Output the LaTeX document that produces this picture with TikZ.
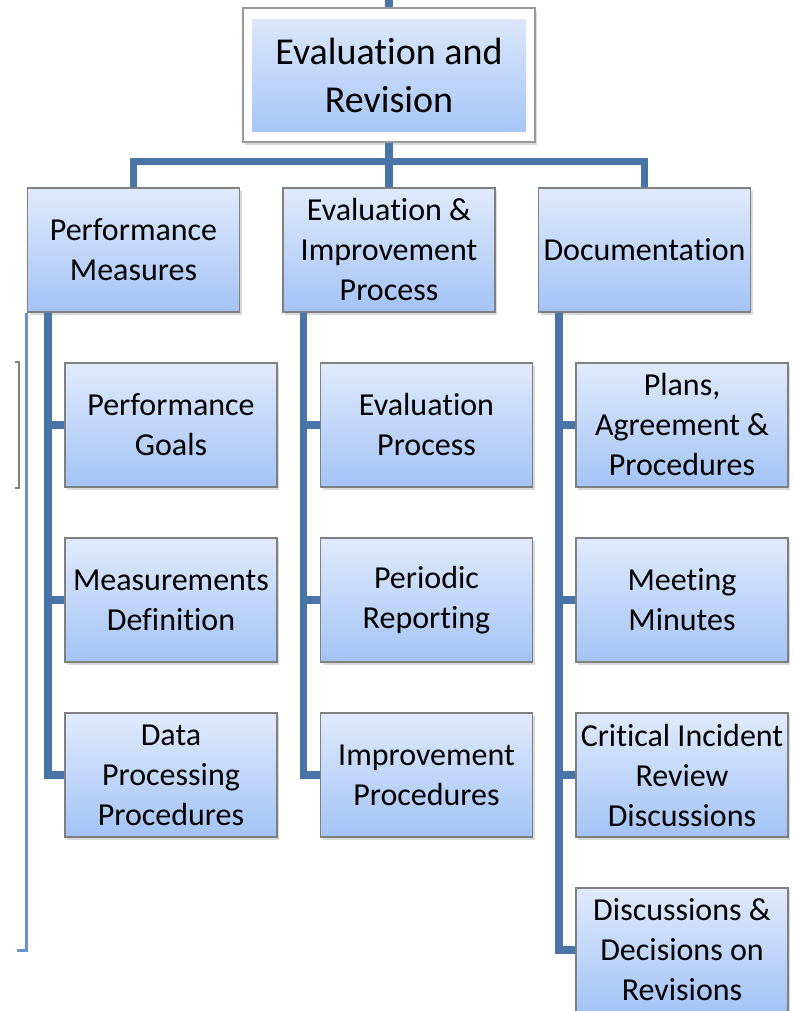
\documentclass[tikz,border=0pt]{standalone}
\usepackage{fontspec}
\setmainfont{Carlito}[Ligatures=NoCommon]
\usetikzlibrary{trees,shadows}
\definecolor{linkblue}{RGB}{72,116,168}
\definecolor{cropblue}{RGB}{104,148,210}
\definecolor{boxtop}{RGB}{224,234,252}
\definecolor{boxbottom}{RGB}{163,195,246}
\definecolor{boxline}{RGB}{128,128,128}
\begin{document}
\begin{tikzpicture}
		[x=1pt,y=1pt,
		font=\fontsize{32}{40}\selectfont,
		box/.style={rectangle,draw=boxline,line width=1.2pt,
			top color=boxtop,bottom color=boxbottom,
			minimum width=212pt,minimum height=124pt,inner sep=0pt,align=center,
			drop shadow={shadow xshift=2pt,shadow yshift=-3pt,opacity=0.3}},
		rootbox/.style={rectangle,draw=boxline!80,line width=1.2pt,fill=white,
			minimum width=292pt,minimum height=134pt,inner sep=0pt,align=center,
			font=\fontsize{38}{48}\selectfont,
			drop shadow={shadow xshift=2pt,shadow yshift=-3pt,opacity=0.3},
			path picture={\shade[top color=boxtop,bottom color=boxbottom]
				([xshift=9pt,yshift=-12pt]path picture bounding box.north west) rectangle
				([xshift=-9pt,yshift=10pt]path picture bounding box.south east);}},
		every child node/.style={box},
		edge from parent/.style={draw=linkblue,line width=7.5pt},
		level distance=175pt,
		level 1/.style={sibling distance=255.5pt,
			edge from parent path={(\tikzparentnode.south) -- ++(0,-19) -| (\tikzchildnode.north)}},
		level 2/.style={grow via three points={one child at (37.5,-175) and two children at (37.5,-175) and (37.5,-350)},
			edge from parent path={([xshift=21pt]\tikzparentnode.south west) |- (\tikzchildnode.west)}}]
		\useasboundingbox (0,0) rectangle (794,-1011);
		\coordinate (topend) at (389,0);
		\coordinate (cropend) at (17,-950);
		\draw[boxline,line width=2.5pt] (15,-362) -- (19,-362) -- (19,-488) -- (15,-488);
		\node[rootbox] (evalrev) at (389,-75) {Evaluation and\\Revision}
		child {node (perf) {Performance\\Measures}
			child {node (goals) {Performance\\Goals}}
			child {node (measdef) {Measurements\\Definition}}
			child {node (dataproc) {Data\\Processing\\Procedures}}}
		child {node (evalimp) {Evaluation \&\\Improvement\\Process}
			child {node (evalproc) {Evaluation\\Process}}
			child {node (periodic) {Periodic\\Reporting}}
			child {node (improc) {Improvement\\Procedures}}}
		child {node (docs) {Documentation}
			child {node (plans) {Plans,\\Agreement \&\\Procedures}}
			child {node (minutes) {Meeting\\Minutes}}
			child {node (incident) {Critical Incident\\Review\\Discussions}}
			child {node (revisions) {Discussions \&\\Decisions on\\Revisions}}};
		\draw[linkblue,line width=7.5pt] (evalrev.north) -- (topend);
		\draw[cropblue,line width=3pt] (perf.south west) |- (cropend);
	\end{tikzpicture}
\end{document}
